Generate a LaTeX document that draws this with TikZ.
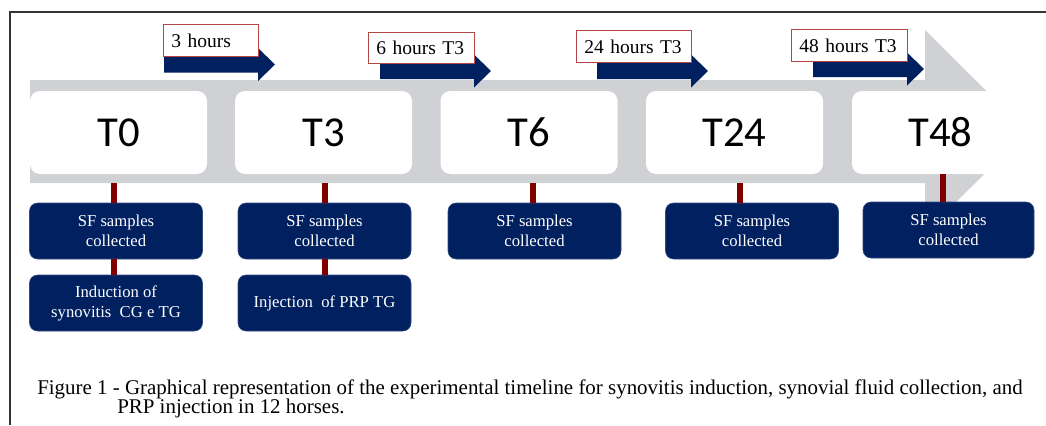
\documentclass[tikz,border=0pt]{standalone}
\usepackage{fontspec}
\setmainfont{Liberation Serif}
\newfontfamily\calfont{Carlito}
\definecolor{navy}{RGB}{0,32,96}
\definecolor{bargray}{RGB}{208,209,213}
\definecolor{linkred}{RGB}{128,0,0}
\definecolor{boxred}{RGB}{180,70,70}
\tikzset{
  phase/.style={fill=white, rounded corners=7.5pt, minimum width=132.75pt, minimum height=62.25pt, font=\calfont\fontsize{32}{38}\selectfont},
  task/.style={fill=navy, draw=navy!80!white, rounded corners=6pt, minimum width=129.75pt, minimum height=42pt, text=white, align=center, font=\fontsize{12.5}{15}\selectfont},
  hourbox/.style={draw=boxred, fill=white, line width=0.6pt, anchor=north west, inner xsep=6pt, minimum height=24pt, align=left, font=\fontsize{14.6}{16}\selectfont},
  link/.style={draw=linkred, line width=4.5pt},
  caption/.style={anchor=base west, inner sep=0pt, font=\fontsize{15.7}{18}\selectfont}
}
\begin{document}
\begin{tikzpicture}[x=0.75pt,y=-0.75pt]
\useasboundingbox (0,0) rectangle (1046,425);
\draw[line width=0.8pt, black!80] (1046,12) -- (10,12) -- (10,425);
\fill[bargray] (30,80) -- (925,80) -- (925,30) -- (1027,131.5) -- (925,233) -- (925,183) -- (30,183) -- cycle;
\coordinate (barlow) at (0,183);
\node[phase] (t0) at (118.5,132.5) {T0};
\node[phase] (t3) at (323.5,132.5) {T3};
\node[phase] (t6) at (529,132.5) {T6};
\node[phase] (t24) at (734.5,132.5) {T24};
\node[phase] (t48) at (940.5,132.5) {T48};
\foreach \xa/\xb/\yc in {164/258/64.5, 380/474/71, 597/691/71, 813/907/69}
  \fill[navy] (\xa,\yc-8) -- (\xb,\yc-8) -- (\xb,\yc-16.5) -- (\xb+17,\yc) -- (\xb,\yc+16.5) -- (\xb,\yc+8) -- (\xa,\yc+8) -- cycle;
\node[hourbox, text width=59.25pt] (h3) at (163,24) {3 hours};
\node[hourbox, text width=67.5pt, minimum height=23.25pt] (h6) at (368,32) {6 hours T3};
\node[hourbox, text width=74.25pt] (h24) at (576,30) {24 hours T3};
\node[hourbox, text width=75pt] (h48) at (791,29) {48 hours T3};
\node[task] (sf0) at (116,231) {SF samples\\collected};
\node[task] (ind) at (116,303) {Induction of\\synovitis\ \ CG e TG};
\node[task] (sf3) at (324.5,231) {SF samples\\collected};
\node[task] (inj) at (324.5,303) {Injection\ \ of PRP TG};
\node[task] (sf6) at (534.5,231) {SF samples\\collected};
\node[task] (sf24) at (752,231) {SF samples\\collected};
\node[task, minimum width=128.25pt] (sf48) at (948.5,230) {SF samples\\collected};
\draw[link] ([xshift=-1.5pt]sf0.north |- barlow) -- ([xshift=-1.5pt]sf0.north);
\draw[link] ([xshift=-1.5pt]sf0.south) -- ([xshift=-1.5pt]ind.north);
\draw[link] (sf3.north |- barlow) -- (sf3.north);
\draw[link] (sf3.south) -- (inj.north);
\draw[link] ([xshift=-1.5pt]sf6.north |- barlow) -- ([xshift=-1.5pt]sf6.north);
\draw[link] ([xshift=-9pt]sf24.north |- barlow) -- ([xshift=-9pt]sf24.north);
\draw[link] ([xshift=-4pt]sf48.north |- t48.south) -- ([xshift=-4pt]sf48.north);
\node[caption] (cap1) at (37,394) {Figure 1 - Graphical representation of the experimental timeline for synovitis induction, synovial fluid collection, and};
\node[caption] (cap2) at (117,413) {PRP injection in 12 horses.};
\end{tikzpicture}
\end{document}
